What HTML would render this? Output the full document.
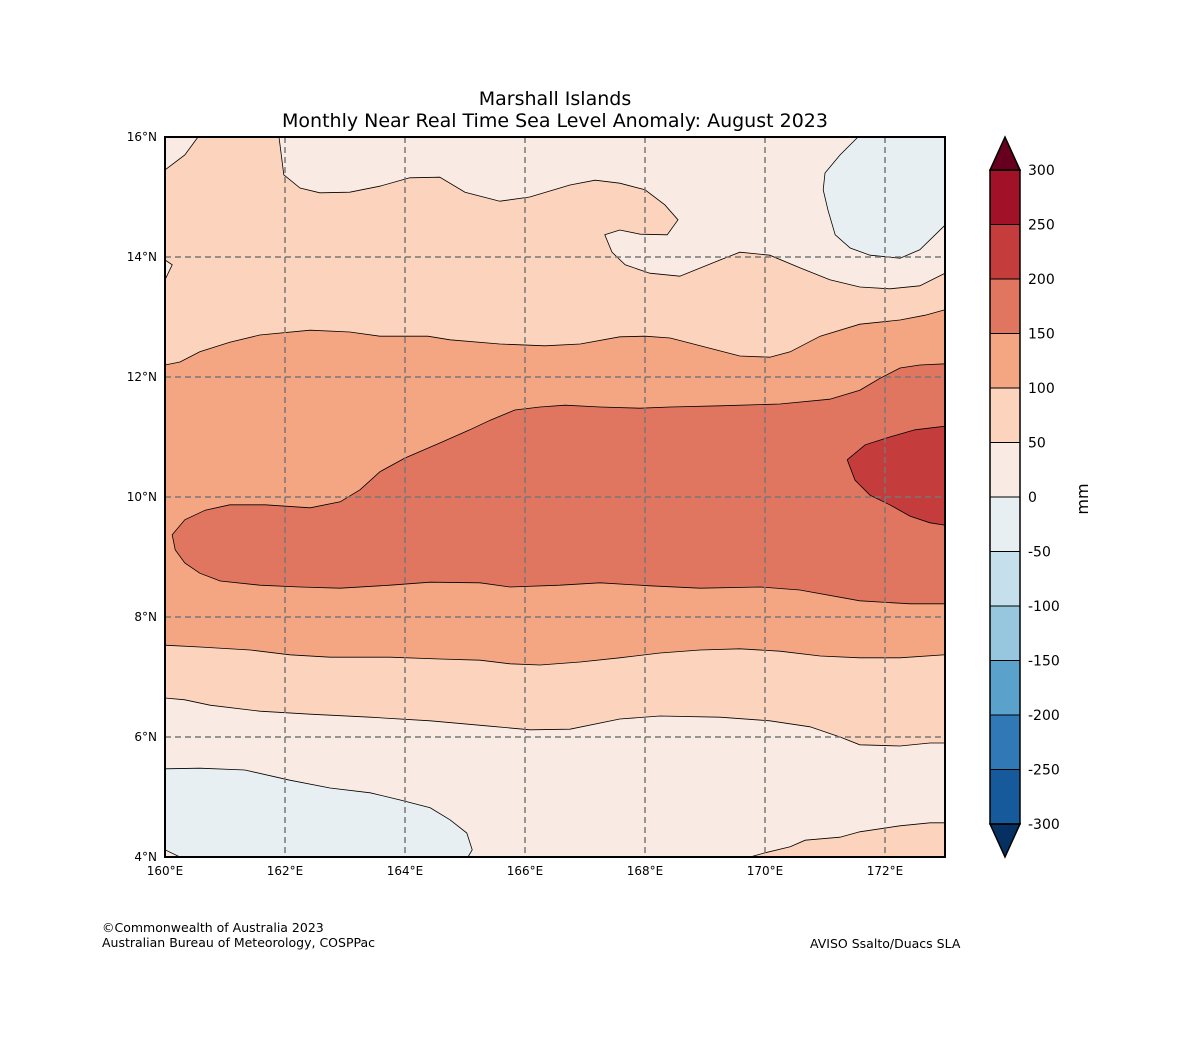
<!DOCTYPE html>
<html><head><meta charset="utf-8"><style>
body{margin:0;background:#fff;}
svg{display:block;font-family:"DejaVu Sans","Liberation Sans",sans-serif;}
</style></head><body>
<svg id="chart" width="1180" height="1052">
<g id="map"></g>
<g id="grid"></g>
<g id="axes"></g>
<g id="cbar"></g>
<text x="555" y="105" text-anchor="middle" font-size="19">Marshall Islands</text>
<text x="555" y="127" text-anchor="middle" font-size="19">Monthly Near Real Time Sea Level Anomaly: August 2023</text>
<text x="102" y="932" font-size="12.5">©Commonwealth of Australia 2023</text>
<text x="102" y="947" font-size="12.5">Australian Bureau of Meteorology, COSPPac</text>
<text x="810" y="948" font-size="12.5">AVISO Ssalto/Duacs SLA</text>
<text x="0" y="0" font-size="16" transform="translate(1088,499) rotate(-90)" text-anchor="middle">mm</text>
</svg>
<script>
const lonTicks=[160,162,164,166,168,170,172];
const latTicks=[4,6,8,10,12,14,16];
const levels=[-300,-250,-200,-150,-100,-50,0,50,100,150,200,250,300];
const levelColors=['#175a9c','#3079b6','#5aa2cb','#96c7df','#c5dfec','#e7eff3','#f9ebe3','#fcd3bc','#f4a683','#e07560','#c43c3c','#a11228'];
const extendLow='#053061', extendHigh='#67001f';
const topWarm=[[161.9,16],[161.98,15.37],[162.25,15.15],[162.58,15.07],[163.08,15.08],[163.58,15.18],[164.08,15.32],[164.58,15.33],[165,15.08],[165.58,14.93],[166.08,15],[166.75,15.2],[167.17,15.28],[167.58,15.23],[168,15.12],[168.33,14.87],[168.55,14.62],[168.37,14.37],[167.92,14.38],[167.58,14.45],[167.33,14.37],[167.45,14.08],[167.67,13.87],[168.08,13.73],[168.58,13.68],[169.25,13.95],[169.58,14.08],[170.08,14.03],[170.58,13.82],[171.08,13.62],[171.58,13.5],[172.08,13.47],[172.58,13.52],[173,13.73],[173,16]];
const topLeftWarm=[[160,16],[160.55,16],[160.33,15.7],[160,15.45]];
const leftWarm=[[160,13.95],[160.12,13.87],[160,13.62]];
const topBlue=[[171.55,16],[171.25,15.7],[171,15.4],[170.97,15.12],[171.05,14.78],[171.17,14.37],[171.42,14.15],[171.75,14.03],[172.25,13.98],[172.58,14.12],[173,14.53],[173,16]];
const band100=[[160,12.2],[160.25,12.25],[160.58,12.42],[161.08,12.58],[161.58,12.7],[162.42,12.78],[163.08,12.75],[163.58,12.68],[164.38,12.68],[164.75,12.62],[165.58,12.55],[166.33,12.52],[166.92,12.55],[167.58,12.67],[168,12.68],[168.42,12.65],[168.92,12.52],[169.58,12.35],[170.08,12.33],[170.42,12.42],[170.92,12.68],[171.58,12.88],[172.25,12.95],[172.67,13.03],[173,13.12],[173,7.37],[172.25,7.32],[171.58,7.32],[170.92,7.35],[170.25,7.43],[169.58,7.47],[168.92,7.45],[168.25,7.4],[167.58,7.32],[166.92,7.25],[166.25,7.2],[165.75,7.22],[165.25,7.28],[164.58,7.3],[163.75,7.33],[162.75,7.33],[162.08,7.37],[161.42,7.45],[160.58,7.5],[160,7.53]];
const band150=[[160.12,9.37],[160.33,9.62],[160.67,9.78],[161.08,9.87],[161.67,9.87],[162.42,9.82],[162.92,9.92],[163.25,10.12],[163.58,10.42],[164,10.65],[164.58,10.9],[165.08,11.12],[165.42,11.28],[165.83,11.45],[166.25,11.5],[166.67,11.53],[167.25,11.5],[167.92,11.48],[168.42,11.5],[169.25,11.52],[170.25,11.55],[171.08,11.63],[171.58,11.78],[171.92,11.98],[172.25,12.15],[172.58,12.2],[173,12.22],[173,8.22],[172.42,8.22],[171.58,8.27],[170.58,8.45],[169.92,8.5],[168.92,8.48],[168.08,8.52],[167.25,8.57],[166.58,8.53],[165.75,8.5],[165.25,8.57],[164.42,8.58],[163.75,8.53],[162.92,8.48],[162.25,8.5],[161.58,8.53],[160.92,8.6],[160.58,8.73],[160.33,8.9],[160.17,9.12]];
const band200=[[171.37,10.62],[171.67,10.87],[172.08,11],[172.5,11.12],[173,11.18],[173,9.53],[172.75,9.57],[172.42,9.68],[172.08,9.87],[171.75,10.03],[171.5,10.28]];
const bottomWarm=[[160,6.65],[160.33,6.62],[160.75,6.53],[161.58,6.43],[162.42,6.38],[163.42,6.33],[164.42,6.27],[165.42,6.18],[166.08,6.12],[166.75,6.13],[167.58,6.3],[168.25,6.35],[169.25,6.33],[170.08,6.27],[170.75,6.17],[171.25,6],[171.58,5.87],[172.25,5.85],[172.75,5.9],[173,5.9],[173,4.57],[172.75,4.57],[172.25,4.52],[171.58,4.42],[171.25,4.33],[170.67,4.28],[170.42,4.17],[170,4.07],[169.75,4],[160,4]];
const bottomBlue=[[160,5.47],[160.58,5.48],[161.33,5.45],[162.08,5.28],[162.75,5.15],[163.42,5.07],[163.92,4.95],[164.42,4.82],[164.75,4.62],[165.03,4.4],[165.12,4.12],[165.05,4],[160,4]];
const cornerWarm=[[160,4.12],[160.25,4],[160,4]];

const L=165,R=945,T=137,B=857;
const xs=lon=>L+(lon-160)*(R-L)/13;
const ys=lat=>T+(16-lat)*(B-T)/12;
const NS='http://www.w3.org/2000/svg';
function mk(tag,attrs,parent){const e=document.createElementNS(NS,tag);for(const k in attrs)e.setAttribute(k,attrs[k]);parent.appendChild(e);return e;}
const map=document.getElementById('map');
const bg=mk('rect',{x:L,y:T,width:R-L,height:B-T,fill:levelColors[7]},map);


const regions=[[topWarm,6,'region-0-50-north'],[topLeftWarm,6,'region-0-50-northwest'],[leftWarm,6,'region-0-50-west'],[topBlue,5,'region-neg50-0-northeast'],[band100,8,'band-100-150'],[band150,9,'band-150-200'],[band200,10,'region-200-250'],[bottomWarm,6,'region-0-50-south'],[bottomBlue,5,'region-neg50-0-southwest'],[cornerWarm,6,'region-0-50-corner']];
regions.forEach(r=>{
  const d=r[0].map((p,i)=>(i?'L':'M')+xs(p[0]).toFixed(1)+' '+ys(p[1]).toFixed(1)).join(' ')+' Z';
  const p=mk('path',{d:d,fill:levelColors[r[1]],stroke:'#000','stroke-width':0.8},map);
  
  
});
const grid=document.getElementById('grid');
lonTicks.slice(1).forEach(v=>{const l=mk('line',{x1:xs(v),x2:xs(v),y1:T,y2:B,stroke:'#777','stroke-width':1.5,'stroke-dasharray':'6,4'},grid);

});
latTicks.slice(1,-1).forEach(v=>{const l=mk('line',{x1:L,x2:R,y1:ys(v),y2:ys(v),stroke:'#777','stroke-width':1.5,'stroke-dasharray':'6,4'},grid);

});
const axes=document.getElementById('axes');
const fr=mk('rect',{x:L,y:T,width:R-L,height:B-T,fill:'none',stroke:'#000','stroke-width':2},axes);


lonTicks.forEach(v=>{const t=mk('text',{x:xs(v),y:B+18,'text-anchor':'middle','font-size':12},axes);t.textContent=v+'°E';

});
latTicks.forEach(v=>{const t=mk('text',{x:L-8,y:ys(v)+4,'text-anchor':'end','font-size':12},axes);t.textContent=v+'°N';

});
const cb=document.getElementById('cbar');
const cx=990,cw=30,ct=170,cbt=824;
const cy=v=>cbt-(v-levels[0])*(cbt-ct)/(levels[levels.length-1]-levels[0]);
levelColors.forEach((c,i)=>{const r=mk('rect',{x:cx,y:cy(levels[i+1]),width:cw,height:cy(levels[i])-cy(levels[i+1]),fill:c,stroke:'#000','stroke-width':1},cb);

});
const up=mk('polygon',{points:`${cx},${ct} ${cx+cw/2},${T} ${cx+cw},${ct}`,fill:extendHigh,stroke:'#000','stroke-width':1.5},cb);


const dn=mk('polygon',{points:`${cx},${cbt} ${cx+cw/2},${B} ${cx+cw},${cbt}`,fill:extendLow,stroke:'#000','stroke-width':1.5},cb);


const cbo=mk('rect',{x:cx,y:ct,width:cw,height:cbt-ct,fill:'none',stroke:'#000','stroke-width':1.5},cb);


levels.forEach(v=>{const t=mk('text',{x:1028,y:cy(v)+5,'font-size':14},cb);t.textContent=v;

});
</script>
</body></html>
